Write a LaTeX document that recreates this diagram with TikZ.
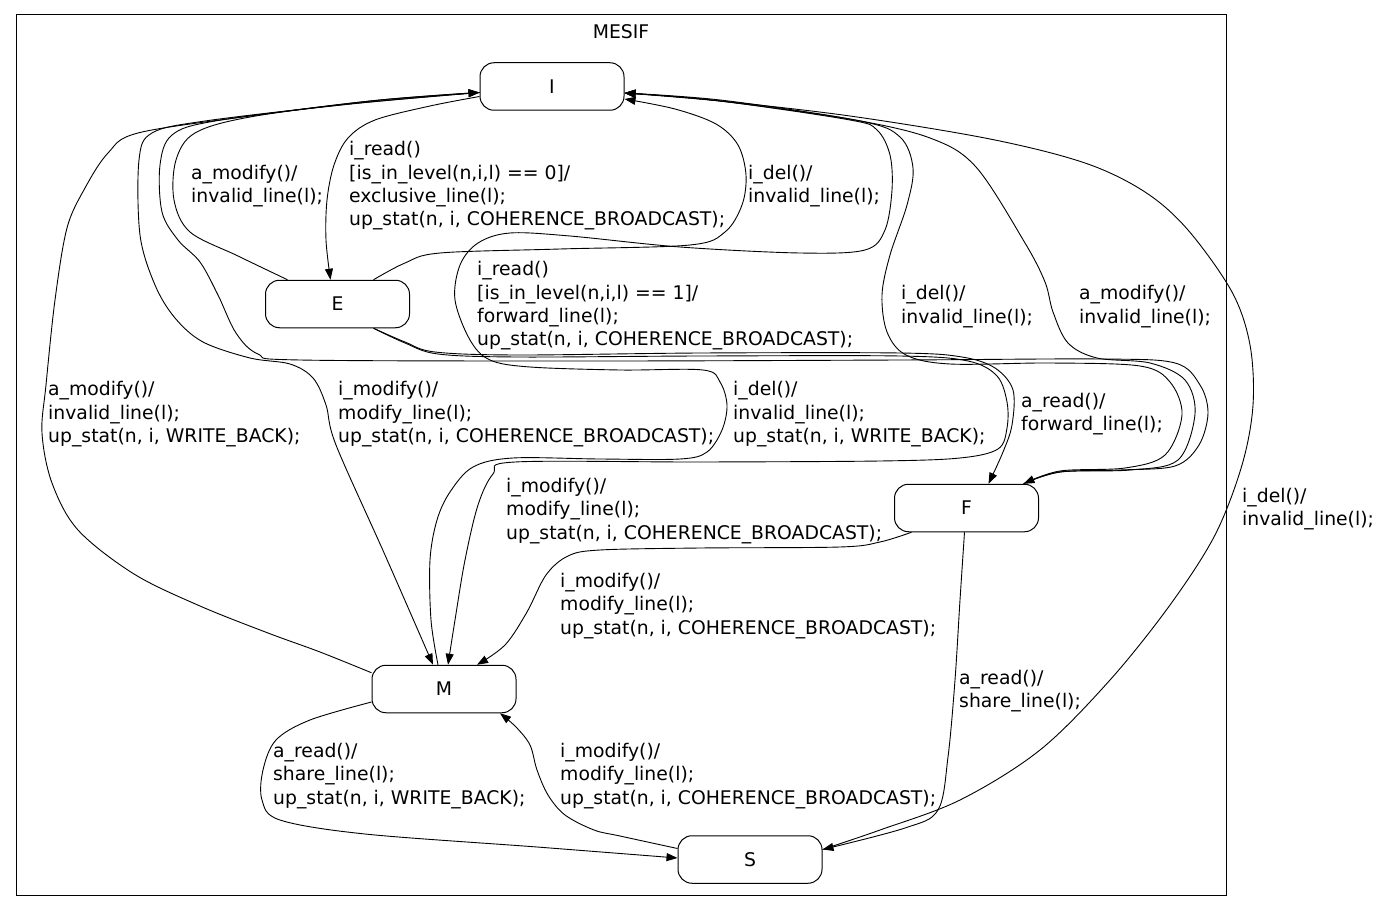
\documentclass[tikz,border=0pt]{standalone}
\usepackage{fontspec}
\newfontfamily\dejavu{DejaVu Sans}
\usetikzlibrary{arrows.meta}
\newcommand\edgefont{\dejavu\fontsize{18.8pt}{23.3pt}\selectfont}
\newcommand\trlabel[1]{\begin{tabular}[t]{@{}l@{}}#1\end{tabular}}
\tikzset{
  state/.style={draw, line width=1pt, rounded corners=14pt, minimum width=144pt,
    minimum height=47.5pt, inner sep=0pt, font=\edgefont},
  trans/.style={line width=0.9pt, -{Triangle[length=11pt,width=8pt]}},
  tlabel/.style={anchor=base west, inner sep=0pt, font=\edgefont},
  curve/.style={smooth, tension=0.55},
}
\begin{document}
\begin{tikzpicture}[x=1pt, y=-1pt]
\fill[white] (0,0) rectangle (1376,912);
\useasboundingbox (0,0) rectangle (1376,912);

% cluster frame and title
\draw[line width=1pt] (16,15) rectangle (1226,895);
\node[font=\edgefont, anchor=base] (title) at (621,38.5) {MESIF};

% states
\node[state] (I) at (552,86.5) {I};
\node[state] (E) at (337.5,304) {E};
\node[state] (F) at (966.5,508) {F};
\node[state] (M) at (444,689) {M};
\node[state] (S) at (750,859.5) {S};

% I -> E
\draw[trans] plot[curve] coordinates {([yshift=-10pt]I.west) (430,106) (375,120)
  (348,138) (334,165) (327,200) (326,240) ([xshift=-7pt]E.north)};
% E -> I (a_modify)
\draw[trans] plot[curve] coordinates {([xshift=-50pt]E.north) (238,256) (190,232)
  (174,200) (176,160) (195,133) (250,117) (370,101) ([yshift=-6pt]I.west)};
% E -> I (i_del)
\draw[trans] plot[curve] coordinates {([xshift=36pt]E.north) (405,263) (440,253)
  (560,249) (690,245) (725,232) (742,205) (746,175) (738,145) (716,124) (675,109)
  ([yshift=-12.5pt]I.east)};
% I -> F
\draw[trans] plot[curve] coordinates {([yshift=-6pt]I.west) (350,104) (215,121)
  (172,135) (160,165) (162,212) (178,240) (200,262) (218,295) (236,333) (258,354)
  (300,360) (600,361) (900,360) (1100,359) (1175,363) (1200,385) (1208,413)
  (1199,445) (1175,466) (1120,470) (1060,472) ([xshift=57pt]F.north)};
% F -> I (i_del)
\draw[trans] plot[curve] coordinates {([xshift=57pt]F.north) (1060,471) (1125,468)
  (1165,455) (1182,415) (1170,382) (1140,366) (1050,363) (950,364) (906,355)
  (887,332) (882,295) (890,255) (907,205) (913,168) (900,137) (860,121) (720,101)
  ([yshift=-6.5pt]I.east)};
% F -> I (a_modify)
\draw[trans] plot[curve] coordinates {([xshift=57pt]F.north) (1060,472) (1130,470)
  (1178,460) (1195,414) (1185,380) (1150,363) (1097,358) (1068,343) (1053,312)
  (1045,282) (1025,243) (976,167) (930,138) (850,119) (720,100)
  ([yshift=-6.5pt]I.east)};
% M -> I (a_modify)
\draw[trans] plot[curve] coordinates {([yshift=-8pt]M.north west) (320,652)
  (268,633) (200,606) (134,574) (78,530) (52,483) (42,433) (46,385) (55,300)
  (67,228) (85,188) (108,153) (138,133) (250,116) (380,100) ([yshift=-6pt]I.west)};
% I -> M (i_modify)
\draw[trans] plot[curve] coordinates {([yshift=-6pt]I.west) (350,104) (205,121)
  (152,133) (139,160) (140,235) (155,285) (175,318) (203,342) (250,358) (290,364)
  (313,378) (326,405) (336,445) (385,555) ([xshift=-11pt]M.north)};
% M -> I (i_del)
\draw[trans] plot[curve] coordinates {([xshift=-6pt]M.north) (431,620) (430,560)
  (437,520) (450,492) (473,467) (513,458) (600,459) (680,459) (707,452) (722,430)
  (727,405) (720,382) (703,370) (620,370) (530,367) (490,360) (470,340) (455,300)
  (460,265) (478,243) (510,233) (570,236) (680,247) (800,253) (865,250) (885,230)
  (892,190) (890,155) (877,130) (850,120) (720,101) ([yshift=-6.5pt]I.east)};
% E -> F (a_read)
\draw[trans] plot[curve] coordinates {([xshift=36pt]E.south) (405,342) (435,352)
  (517,355) (700,353) (900,353) (962,357) (995,368) (1013,390) (1012,425)
  (1003,452) ([xshift=22pt]F.north)};
% E -> M (i_modify)
\draw[trans] plot[curve] coordinates {([xshift=36pt]E.south) (405,343) (438,354)
  (517,357) (700,356) (900,356) (968,361) (997,376) (1007,402) (1007,428)
  (998,449) (960,458) (880,461) (700,462) (515,462) (493,474) (478,505) (465,560)
  (455,620) ([xshift=4pt]M.north)};
% F -> M (i_modify)
\draw[trans] plot[curve] coordinates {([xshift=-55pt]F.south) (880,542) (840,547)
  (700,548) (600,550) (568,556) (546,575) (527,612) (505,645) ([xshift=33pt]M.north)};
% F -> S (a_read)
\draw[trans] plot[curve] coordinates {([xshift=-2pt]F.south) (960,600) (955,680)
  (948,757) (938,810) (905,828) ([yshift=10pt]S.east)};
% S -> I (i_del)
\draw[trans] plot[curve] coordinates {([yshift=10pt]S.east) (880,830) (960,800)
  (1040,750) (1110,680) (1170,605) (1215,535) (1242,465) (1253,405) (1250,345)
  (1232,292) (1188,230) (1145,192) (1085,163) (990,139) (850,116) (720,101)
  ([yshift=-6.5pt]I.east)};
% M -> S (a_read)
\draw[trans] plot[curve] coordinates {([yshift=-13pt]M.west) (310,720) (276,740)
  (263,770) (262,800) (280,820) (365,834) (537,847) ([yshift=1.5pt]S.west)};
% S -> M (i_modify)
\draw[trans] plot[curve] coordinates {([yshift=11pt]S.west) (620,836) (594,830)
  (565,815) (548,795) (537,770) (530,745) (516,727) ([xshift=56pt]M.south)};

% transition labels
\begin{scope}[yshift=-2.5pt]
\node[tlabel] (t1) at (349,153.3) {\trlabel{i\_read()\\{}[is\_in\_level(n,i,l) == 0]/\\exclusive\_line(l);\\up\_stat(n, i, COHERENCE\_BROADCAST);}};
\node[tlabel] (t2) at (191,176.7) {\trlabel{a\_modify()/\\invalid\_line(l);}};
\node[tlabel] (t3) at (748,176.7) {\trlabel{i\_del()/\\invalid\_line(l);}};
\node[tlabel] (t4) at (477,273.3) {\trlabel{i\_read()\\{}[is\_in\_level(n,i,l) == 1]/\\forward\_line(l);\\up\_stat(n, i, COHERENCE\_BROADCAST);}};
\node[tlabel] (t5) at (901,297.3) {\trlabel{i\_del()/\\invalid\_line(l);}};
\node[tlabel] (t6) at (1079,297.3) {\trlabel{a\_modify()/\\invalid\_line(l);}};
\node[tlabel] (t7) at (48,393.3) {\trlabel{a\_modify()/\\invalid\_line(l);\\up\_stat(n, i, WRITE\_BACK);}};
\node[tlabel] (t8) at (338,393.3) {\trlabel{i\_modify()/\\modify\_line(l);\\up\_stat(n, i, COHERENCE\_BROADCAST);}};
\node[tlabel] (t9) at (733,393.3) {\trlabel{i\_del()/\\invalid\_line(l);\\up\_stat(n, i, WRITE\_BACK);}};
\node[tlabel] (t10) at (1021,404.5) {\trlabel{a\_read()/\\forward\_line(l);}};
\node[tlabel] (t11) at (506,490) {\trlabel{i\_modify()/\\modify\_line(l);\\up\_stat(n, i, COHERENCE\_BROADCAST);}};
\node[tlabel] (t12) at (560,585) {\trlabel{i\_modify()/\\modify\_line(l);\\up\_stat(n, i, COHERENCE\_BROADCAST);}};
\node[tlabel] (t13) at (959,681.7) {\trlabel{a\_read()/\\share\_line(l);}};
\node[tlabel] (t14) at (1242,500) {\trlabel{i\_del()/\\invalid\_line(l);}};
\node[tlabel] (t15) at (273,755) {\trlabel{a\_read()/\\share\_line(l);\\up\_stat(n, i, WRITE\_BACK);}};
\node[tlabel] (t16) at (560,755) {\trlabel{i\_modify()/\\modify\_line(l);\\up\_stat(n, i, COHERENCE\_BROADCAST);}};
\end{scope}
\end{tikzpicture}
\end{document}
